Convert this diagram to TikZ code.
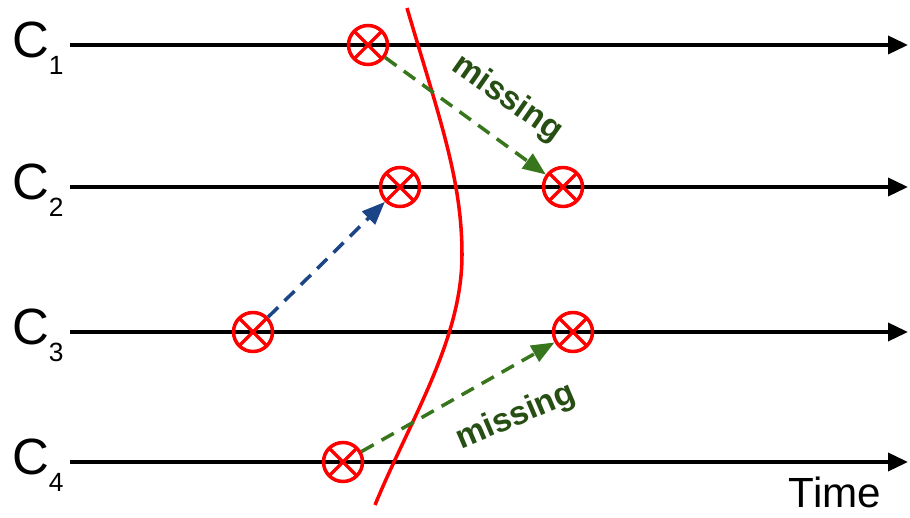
\documentclass[tikz,border=0pt]{standalone}
\usepackage{fontspec}
\setmainfont{Liberation Sans}
\usetikzlibrary{arrows.meta,positioning}

\definecolor{evgreen}{HTML}{38761D}
\definecolor{evtext}{HTML}{274E13}
\definecolor{evblue}{HTML}{1C4587}
\newcommand{\proc}[1]{C\raisebox{-0.33em}{\fontsize{15}{15}\selectfont #1}}

\begin{document}
\begin{tikzpicture}[
    line/.style={line width=2.1pt, -{Triangle[length=0.4cm, width=0.36cm]}},
    event/.style={circle, draw=red, line width=2pt, minimum size=0.78cm, inner sep=0pt,
      path picture={\draw[red, line width=2pt]
        (path picture bounding box.north west) -- (path picture bounding box.south east)
        (path picture bounding box.south west) -- (path picture bounding box.north east);}},
    msg/.style={line width=2pt, dash pattern=on 0.28cm off 0.18cm, -{Triangle[length=0.46cm, width=0.36cm]}},
    lbl/.style={font=\fontsize{29}{29}\selectfont, anchor=base east, inner sep=0pt},
    miss/.style={font=\fontsize{19}{19}\selectfont\bfseries, text=evtext, inner sep=0pt}
  ]
    \useasboundingbox (0,0) rectangle (18.2,10.36);

    % processes
    \node[lbl] (p1) at (1.28,9.2) {\proc{1}};
    \node[lbl] (p2) at (1.28,6.36) {\proc{2}};
    \node[lbl] (p3) at (1.28,3.46) {\proc{3}};
    \node[lbl] (p4) at (1.28,0.86) {\proc{4}};
    \foreach \i/\y in {1/9.46, 2/6.62, 3/3.72, 4/1.12} {
      \coordinate (s\i) at (1.4,\y);
      \coordinate (e\i) at (18.16,\y);
      \draw[line] (s\i) -- (e\i);
    }
    \node[font=\fontsize{24}{24}\selectfont, anchor=base, inner sep=0pt] (time) at (16.7,0.2) {Time};

    % events
    \node[event] (a1) at (7.36,9.46) {};
    \node[event] (b1) at (8.0,6.62) {};
    \node[event] (b2) at (11.26,6.62) {};
    \node[event] (c1) at (5.06,3.72) {};
    \node[event] (c2) at (11.46,3.72) {};
    \node[event] (d1) at (6.86,1.12) {};

    % cut
    \draw[red, line width=2pt] (8.14,10.2) .. controls (8.8,7.96) and (9.24,6.76) .. (9.24,5.26)
      .. controls (9.24,3.56) and (8.2,1.96) .. (7.5,0.26);

    % messages
    \draw[msg, evgreen] (a1) -- (b2);
    \draw[msg, evblue] (c1) -- (b1);
    \draw[msg, evgreen] (d1) -- (c2);
    \node[miss, rotate=-35] (m1) at (10.14,8.38) {missing};
    \node[miss, rotate=23] (m2) at (10.32,2.02) {missing};
\end{tikzpicture}
\end{document}
